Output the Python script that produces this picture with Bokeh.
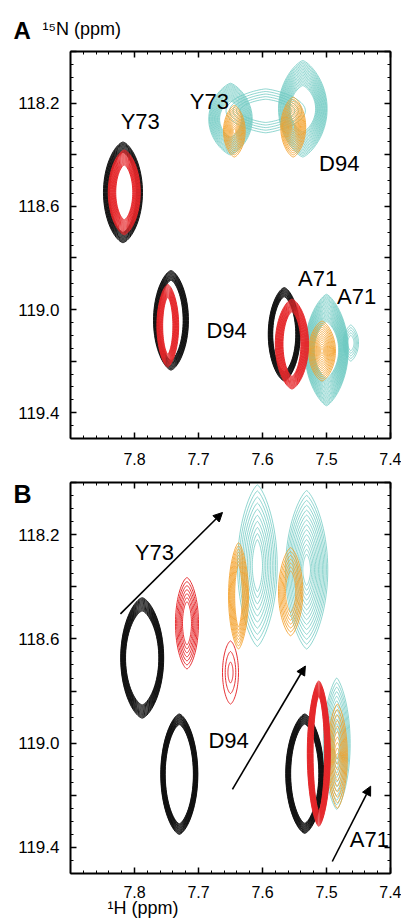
import numpy as np
from bokeh.plotting import figure
from bokeh.models import Range1d, LinearAxis, FixedTicker, Arrow, NormalHead, ColumnDataSource, Title
from bokeh.layouts import column
from bokeh.core.properties import value
from bokeh.embed import file_html
from bokeh.resources import INLINE

# ---------------- axis ticks ----------------
h_major = [7.8, 7.7, 7.6, 7.5, 7.4]
h_minor = [round(7.9 - 0.02 * i, 2) for i in range(26)]
n_major = [118.0, 118.2, 118.4, 118.6, 118.8, 119.0, 119.2, 119.4]
n_minor = [round(118.0 + 0.05 * i, 2) for i in range(31)]
n_labels = {118.0: "", 118.2: "118.2", 118.4: "", 118.6: "118.6", 118.8: "",
            119.0: "119.0", 119.2: "", 119.4: "119.4"}

# ---------------- panel A peaks (1H, 15N, outer/inner half widths, levels) ----------------
A_spec  = ["black", "black", "black", "cyan", "cyan", "cyan", "cyan", "cyan",
           "orange", "orange", "orange", "red", "red", "red"]
A_h     = [7.818, 7.743, 7.566, 7.650, 7.537, 7.595, 7.500, 7.462, 7.644, 7.552, 7.507, 7.816, 7.748, 7.554]
A_n     = [118.546, 119.042, 119.096, 118.262, 118.222, 118.23, 119.157, 119.13, 118.309, 118.293, 119.161, 118.546, 119.063, 119.134]
A_wh    = [0.0305, 0.0273, 0.025, 0.034, 0.038, 0.062, 0.034, 0.012, 0.017, 0.0195, 0.021, 0.025, 0.017, 0.026]
A_wn    = [0.195, 0.193, 0.181, 0.139, 0.187, 0.085, 0.216, 0.07, 0.10, 0.116, 0.116, 0.164, 0.16, 0.174]
A_wh_in = [0.021, 0.019, 0.018, 0.017, 0.020, 0.040, 0.019, 0.005, 0.002, 0.002, 0.002, 0.0133, 0.008, 0.014]
A_wn_in = [0.155, 0.155, 0.145, 0.07, 0.09, 0.045, 0.11, 0.03, 0.01, 0.01, 0.01, 0.106, 0.11, 0.125]
A_lev   = [14, 14, 14, 16, 18, 5, 22, 5, 12, 14, 14, 16, 14, 16]

A_lab_text = ["Y73", "Y73", "D94", "D94", "A71", "A71"]
A_lab_h    = [7.791, 7.683, 7.480, 7.656, 7.514, 7.453]
A_lab_n    = [118.27, 118.193, 118.436, 119.08, 118.88, 118.949]

# ---------------- panel B peaks ----------------
B_spec  = ["black", "black", "black", "cyan", "cyan", "cyan",
           "orange", "orange", "orange", "red", "red", "red"]
B_h     = [7.788, 7.730, 7.534, 7.608, 7.531, 7.484, 7.6375, 7.556, 7.483, 7.718, 7.650, 7.512]
B_n     = [118.673, 119.119, 119.117, 118.319, 118.335, 119.002, 118.435, 118.419, 119.05, 118.54, 118.729, 119.04]
B_wh    = [0.0336, 0.029, 0.0297, 0.031, 0.033, 0.021, 0.0156, 0.019, 0.0156, 0.018, 0.0125, 0.018]
B_wn    = [0.231, 0.231, 0.229, 0.31, 0.304, 0.252, 0.204, 0.169, 0.20, 0.175, 0.121, 0.279]
B_wh_in = [0.026, 0.022, 0.022, 0.008, 0.006, 0.004, 0.006, 0.008, 0.002, 0.007, 0.004, 0.009]
B_wn_in = [0.18, 0.19, 0.19, 0.10, 0.06, 0.06, 0.12, 0.08, 0.01, 0.083, 0.04, 0.22]
B_lev   = [16, 16, 16, 10, 14, 12, 8, 7, 10, 7, 3, 16]

B_lab_text = ["Y73", "D94", "A71"]
B_lab_h    = [7.769, 7.653, 7.433]
B_lab_n    = [118.269, 118.988, 119.369]

B_arrow_h0 = [7.822, 7.647, 7.491]
B_arrow_n0 = [118.504, 119.177, 119.454]
B_arrow_h1 = [7.6625, 7.533, 7.431]
B_arrow_n1 = [118.115, 118.704, 119.165]

# panel letters and axis titles
PANEL_A = "A"
PANEL_B = "B"
N_TITLE = "\u00b9\u2075N (ppm)"
H_TITLE = "\u00b9H (ppm)"

# ---------------- styles ----------------
COLORS = {"black": "#111111", "red": "#e5272a", "cyan": "#6cc9c0", "orange": "#f39f27"}
LW = {"black": 1.0, "red": 1.0, "cyan": 0.8, "orange": 0.9}
POINT = {"black": 0.3, "red": 0.3, "cyan": 0.5, "orange": 0.4}
ORDER = ["black", "cyan", "orange", "red"]
FONT = "Liberation Sans"
T = np.linspace(0, 2 * np.pi, 81)
W = 401


def rings(h, n, wh, wn, whi, wni, nlev, q):
    xs, ys = [], []
    st, ct = np.sin(T), np.cos(T)
    for k in range(nlev):
        s = k / (nlev - 1) if nlev > 1 else 0.0
        ah = wh + (whi - wh) * s
        bn = wn + (wni - wn) * s
        xs.append(list(h + ah * st * np.abs(st) ** q))
        ys.append(list(n + bn * ct))
    return xs, ys


def style_axis(ax, ticks, minor, labels, size="17px", standoff=10, overrides=None):
    ax.ticker = FixedTicker(ticks=ticks, minor_ticks=minor)
    ax.axis_line_width = 2
    ax.axis_line_color = "black"
    ax.major_tick_in = 6
    ax.major_tick_out = 0
    ax.minor_tick_in = 3
    ax.minor_tick_out = 0
    ax.major_tick_line_width = 1.5
    ax.minor_tick_line_width = 1
    ax.major_tick_line_color = "black"
    ax.minor_tick_line_color = "black"
    if labels:
        ax.major_label_text_font = FONT
        ax.major_label_text_font_size = size
        ax.major_label_text_color = "black"
        ax.major_label_standoff = standoff
        if overrides:
            ax.major_label_overrides = overrides
    else:
        ax.major_label_text_font_size = "0px"
        ax.major_label_standoff = 0
        ax.major_label_overrides = {t: "" for t in ticks}


def make_fig(height, top, bottom, x_standoff):
    p = figure(width=W, height=height, output_backend="svg", toolbar_location=None,
               x_range=Range1d(7.9, 7.4), y_range=Range1d(119.5, 118.0),
               min_border_left=70, min_border_right=11, min_border_top=top, min_border_bottom=bottom)
    p.grid.visible = False
    p.outline_line_color = None
    p.background_fill_color = "white"
    p.border_fill_color = "white"
    style_axis(p.xaxis[0], h_major, h_minor, True, "16px", x_standoff)
    style_axis(p.yaxis[0], n_major, n_minor, True, "17px", 11, n_labels)
    top_ax = LinearAxis()
    style_axis(top_ax, h_major, h_minor, False)
    p.add_layout(top_ax, "above")
    right_ax = LinearAxis()
    style_axis(right_ax, n_major, n_minor, False)
    p.add_layout(right_ax, "right")
    return p


def draw_peaks(p, spec, hh, nn, wh, wn, whi, wni, lev):
    for col in ORDER:
        xs, ys = [], []
        for i in range(len(spec)):
            if spec[i] != col:
                continue
            a, b = rings(hh[i], nn[i], wh[i], wn[i], whi[i], wni[i], lev[i], POINT[col])
            xs += a
            ys += b
        if xs:
            p.multi_line(xs=xs, ys=ys, line_color=COLORS[col], line_width=LW[col], line_alpha=0.95)


def draw_labels(p, texts, hh, nn):
    src = ColumnDataSource(dict(x=hh, y=nn, t=texts))
    p.text(x="x", y="y", text="t", source=src, text_font=value(FONT), text_font_size="22px",
           text_align="center", text_baseline="middle", text_color="black")


def side_title(text, size, style, offset, valign, standoff):
    return Title(text=text, text_font=FONT, text_font_size=size, text_font_style=style,
                 text_color="black", text_line_height=1.0, align="left", offset=offset,
                 vertical_align=valign, standoff=standoff)


# ---------------- panel A ----------------
pa = make_fig(470, 51, 32, 14)
draw_peaks(pa, A_spec, A_h, A_n, A_wh, A_wn, A_wh_in, A_wn_in, A_lev)
draw_labels(pa, A_lab_text, A_lab_h, A_lab_n)
pa.add_layout(side_title(N_TITLE + "\n\n", "18px", "normal", -28, "top", -58), "above")
pa.add_layout(side_title(PANEL_A, "24px", "bold", -57, "top", 3), "above")

# ---------------- panel B ----------------
pb = make_fig(453, 12, 50, 12)
draw_peaks(pb, B_spec, B_h, B_n, B_wh, B_wn, B_wh_in, B_wn_in, B_lev)
draw_labels(pb, B_lab_text, B_lab_h, B_lab_n)
arrow_src = ColumnDataSource(dict(x0=B_arrow_h0, y0=B_arrow_n0, x1=B_arrow_h1, y1=B_arrow_n1))
pb.add_layout(Arrow(x_start="x0", y_start="y0", x_end="x1", y_end="y1", source=arrow_src,
                    line_width=1.6, line_color="black",
                    end=NormalHead(size=9, fill_color="black", line_color="black")))
pb.title.text = "\n" + PANEL_B
pb.title.text_font = FONT
pb.title.text_font_size = "25px"
pb.title.text_font_style = "bold"
pb.title.text_color = "black"
pb.title.text_line_height = 1.0
pb.title.align = "left"
pb.title.offset = -57
pb.title.vertical_align = "bottom"
pb.title.standoff = -50
pb.add_layout(side_title(H_TITLE, "18px", "normal", 37, "top", -6), "below")

layout = column(pa, pb, spacing=0)
open("out.html", "w").write(file_html(layout, INLINE))
